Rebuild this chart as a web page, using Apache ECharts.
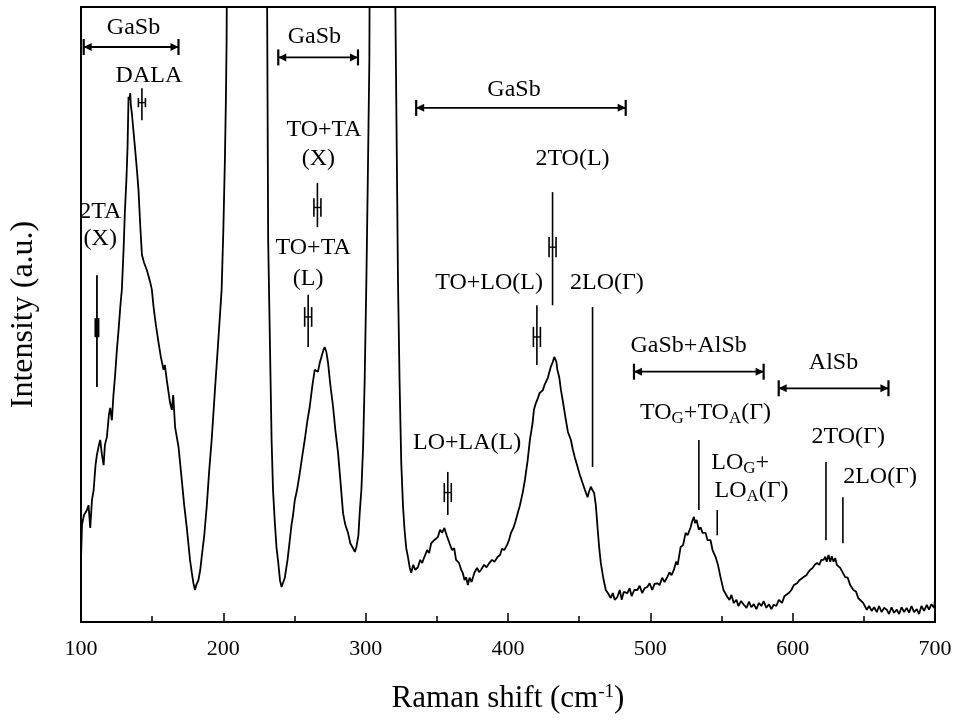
<!DOCTYPE html>
<html><head><meta charset="utf-8">
<script src="https://cdn.jsdelivr.net/npm/echarts@6/dist/echarts.min.js"></script>
<style>html,body{margin:0;padding:0;background:#fff}#c{width:968px;height:727px}</style>
</head><body><div id="c"></div>
<script>
// Raman spectrum (intensity in a.u., 0..100 = bottom..top of frame)
const shift = [100.0,100.7,102.1,104.2,105.3,106.5,107.7,108.9,110.2,111.2,112.6,113.5,114.7,115.9,116.8,118.2,119.6,120.5,121.7,122.8,124.0,125.2,126.4,127.7,128.7,129.9,130.8,131.9,132.7,133.4,134.0,134.6,135.0,135.7,136.8,137.9,139.3,140.4,141.6,142.8,144.2,146.3,148.6,149.8,151.0,152.6,154.5,156.1,158.0,158.9,160.3,162.6,163.8,164.8,166.1,168.5,170.8,172.5,174.3,176.6,177.8,179.0,180.1,181.0,182.5,183.8,184.8,186.6,188.3,190.1,191.8,194.1,196.5,198.8,200.0,201.1,201.8,202.3,203.0,215.0,230.0,230.4,231.5,232.7,233.9,234.9,236.2,237.4,238.6,239.8,240.9,241.9,243.2,245.1,246.7,247.9,249.0,250.2,251.8,253.7,255.6,257.2,259.1,260.7,262.6,264.2,265.4,266.5,267.7,269.3,270.3,271.2,272.4,273.6,275.2,277.1,278.7,280.6,282.2,284.1,285.7,287.6,289.2,291.1,292.4,293.5,294.9,295.8,297.0,298.2,299.3,300.5,301.5,302.6,303.2,311.0,319.6,321.5,322.7,323.8,325.0,326.2,327.3,328.5,329.7,331.0,332.0,333.4,334.8,336.7,338.3,339.7,341.3,343.2,344.6,346.0,348.1,350.7,352.3,353.7,355.3,356.9,358.9,360.7,362.2,363.5,365.6,367.1,368.2,369.5,370.6,371.8,373.0,374.4,376.4,378.3,379.7,381.1,383.2,384.9,386.9,388.8,390.5,392.8,394.4,395.8,397.4,399.3,400.7,402.1,403.8,405.2,406.8,408.4,410.3,411.9,413.8,415.4,417.3,418.2,419.6,421.0,422.1,423.1,424.5,425.6,426.6,428.0,429.1,430.1,431.5,432.5,433.2,434.0,434.7,436.0,437.2,438.4,439.5,440.7,442.1,444.2,445.6,447.0,448.9,450.5,452.4,454.0,455.9,456.8,458.2,459.2,460.5,461.7,462.9,464.1,465.2,466.9,468.7,470.5,472.2,473.6,475.0,476.9,478.5,479.9,481.3,483.9,485.5,486.9,488.7,490.9,492.5,494.3,496.0,497.9,499.5,501.3,503.0,504.9,506.5,508.3,510.0,511.9,513.5,514.9,516.6,518.1,519.2,521.3,523.0,524.8,526.2,528.3,529.3,530.6,531.4,532.5,534.1,535.3,536.7,538.8,540.2,542.3,543.7,545.8,547.5,549.3,551.4,554.0,555.6,557.0,558.6,560.5,561.9,563.7,565.7,567.6,569.3,571.0,572.7,574.5,576.3,578.0,579.6,581.5,583.3,585.0,586.7,588.5,590.3,592.5,594.2,595.6,597.2,599.1,600.8,603.1,604.7,606.1,607.7,609.6,611.0,612.4,614.1,615.5,617.1,618.7,620.1,621.7,622.9,623.9,625.2,626.4,627.5,628.7,629.9,631.0,632.2,633.4,634.8,636.9,638.7,640.4,642.7,644.6,646.0,647.4,649.5,652.1,653.7,655.5,657.2,659.1,660.7,662.5,664.2,666.1,667.7,669.5,671.2,673.1,674.8,676.5,678.3,680.1,681.8,683.5,685.3,687.2,688.8,690.5,692.3,694.2,695.8,697.5,699.3,700.0];
const intensity = [10.1,15.8,17.4,18.2,19.0,15.3,19.8,21.5,25.5,27.2,28.8,29.6,27.2,25.5,28.8,30.1,33.7,34.8,32.8,36.9,40.2,44.2,47.5,51.5,54.0,60.5,66.5,71.9,77.2,85.4,84.9,86.0,84.1,82.8,80.0,77.2,73.5,70.2,64.6,59.7,58.5,57.2,55.3,54.0,51.2,48.3,45.4,43.1,41.0,41.8,39.3,35.6,34.5,36.9,31.7,28.5,23.1,19.0,15.4,10.1,8.1,6.3,5.2,6.0,6.8,8.5,10.6,14.1,18.7,24.7,29.6,37.7,45.9,54.0,63.7,75.1,84.9,94.6,130,170,130,120,62.1,45.9,29.6,21.5,16.1,12.0,9.6,6.8,5.7,6.0,7.2,10.1,13.3,15.8,17.4,19.8,21.5,24.2,27.2,29.6,32.8,35.0,38.5,41.0,41.3,40.7,42.1,43.4,44.2,44.7,43.9,42.1,38.5,35.0,31.2,27.5,23.1,17.7,15.8,14.5,12.8,12.0,11.4,12.2,14.1,17.7,21.5,28.5,39.3,55.6,71.9,91.4,130,170,130,84.9,55.6,39.3,25.9,19.0,15.0,12.0,10.6,8.8,8.0,9.3,8.5,8.9,10.1,9.6,10.6,11.7,11.2,12.8,13.3,13.8,15.0,14.5,15.3,14.1,12.8,11.7,12.0,10.1,9.6,8.5,8.0,6.8,7.3,6.0,7.2,6.5,8.0,8.8,8.1,8.5,9.3,8.9,9.6,10.1,9.8,10.6,10.9,11.9,11.7,12.5,13.3,14.5,15.3,16.3,17.7,19.0,21.0,23.1,26.3,29.6,32.4,34.5,35.6,36.4,37.2,36.9,37.7,38.5,38.2,39.7,40.7,41.5,42.3,43.1,42.9,42.3,41.0,39.8,37.7,36.1,34.5,32.8,30.9,29.6,28.0,26.7,25.2,23.9,22.6,21.5,20.3,21.1,22.0,21.5,21.0,19.0,15.4,12.0,9.6,7.2,5.2,4.6,3.9,4.7,3.6,4.1,5.2,3.6,4.9,4.7,5.5,4.2,5.2,5.2,5.9,4.7,5.5,5.7,6.3,5.2,6.2,6.3,6.0,7.2,6.5,7.3,8.1,7.6,8.5,9.8,9.3,12.2,12.5,14.5,14.1,15.4,16.3,17.1,16.1,16.6,15.0,15.4,14.5,14.5,13.3,13.3,11.7,10.6,9.3,7.3,5.2,4.1,3.6,4.4,3.1,3.6,2.6,3.4,2.8,2.3,3.3,2.4,2.9,2.1,3.1,2.6,3.4,2.3,2.9,2.1,2.8,2.6,3.6,3.1,4.2,3.9,4.7,5.2,6.0,6.3,6.8,6.5,7.3,7.6,8.1,8.5,8.8,9.3,9.6,9.3,10.1,10.1,10.6,9.8,10.9,9.8,10.7,9.8,10.4,9.3,9.6,8.8,9.1,7.3,7.2,6.0,5.2,4.9,3.9,3.6,3.1,2.0,2.6,1.8,2.4,1.6,2.6,1.6,2.3,2.0,1.3,2.4,1.5,2.0,1.3,2.4,1.6,2.3,1.5,2.6,1.6,2.1,1.3,2.6,1.8,2.8,2.0,2.9,2.3,3.6];

// x-axis ticks
const xTicks = [100, 200, 300, 400, 500, 600, 700];

// Range brackets (double arrows) with their captions
const bracketLabels = ['GaSb', 'GaSb', 'GaSb', 'GaSb+AlSb', 'AlSb'];
const bracketFrom = [101.9, 238.6, 335.5, 488.5, 590.2];
const bracketTo = [168.5, 294.6, 482.7, 579.6, 667.3];
const bracketLevel = [93.5, 91.8, 83.6, 40.7, 38.0];
const bracketTextShift = [136.9, 264.0, 404.2, 526.9, 628.7];
const bracketTextLevel = [96.6, 95.2, 86.6, 45.0, 42.1];

// Peak assignment labels
const peakLabels = ['DALA', '2TA', '(X)', 'TO+TA', '(X)', 'TO+TA', '(L)', '2TO(L)', 'TO+LO(L)', '2LO(Γ)', 'LO+LA(L)', 'TO{s|G}+TO{s|A}(Γ)', 'LO{s|G}+', 'LO{s|A}(Γ)', '2TO(Γ)', '2LO(Γ)'];
const peakLabelShift = [147.7, 113.5, 113.5, 270.8, 266.8, 263.1, 259.6, 445.3, 386.7, 469.5, 371.3, 538.8, 563.1, 571.1, 639.0, 661.4];
const peakLabelLevel = [88.9, 66.7, 62.3, 80.0, 75.4, 60.8, 55.9, 75.4, 55.1, 55.1, 29.1, 34.0, 25.9, 21.3, 30.2, 23.7];

// Peak positions with uncertainty ("H" markers)
const hMarkShift = [142.8, 266.1, 259.6, 420.3, 357.7, 431.3];
const hMarkLow = [81.6, 64.2, 44.7, 41.8, 17.4, 51.5];
const hMarkHigh = [86.8, 71.4, 53.2, 51.5, 24.4, 69.9];
const hMarkBarLow = [83.7, 65.9, 48.0, 44.7, 19.5, 59.3];
const hMarkBarHigh = [85.2, 68.9, 51.2, 48.0, 22.6, 62.6];

// 2TA(X) marker with a solid block
const blockMarkShift = [111.2];
const blockMarkLow = [38.2];
const blockMarkHigh = [56.4];
const blockMarkBarLow = [46.3];
const blockMarkBarHigh = [49.4];

// Plain peak-position lines
const tickLineShift = [459.4, 534.1, 547.0, 623.4, 635.3];
const tickLineLow = [25.2, 18.2, 14.1, 13.3, 12.8];
const tickLineHigh = [51.2, 29.6, 18.2, 26.0, 20.3];

const FF = '"Liberation Serif", "Times New Roman", serif';
const chart = echarts.init(document.getElementById('c'), null, {renderer: 'canvas'});
const ls = {stroke: '#000', lineWidth: 1.8};

function renderBracket(params, api) {
  const y = api.value(2);
  const a = api.coord([api.value(0), y]);
  const b = api.coord([api.value(1), y]);
  const t = api.coord([api.value(3), api.value(4)]);
  const h = 8, ah = 8, aw = 4;
  return {type: 'group', children: [
    {type: 'line', shape: {x1: a[0], y1: a[1], x2: b[0], y2: b[1]}, style: ls},
    {type: 'line', shape: {x1: a[0], y1: a[1] - h, x2: a[0], y2: a[1] + h}, style: {stroke: '#000', lineWidth: 2.2}},
    {type: 'line', shape: {x1: b[0], y1: b[1] - h, x2: b[0], y2: b[1] + h}, style: {stroke: '#000', lineWidth: 2.2}},
    {type: 'polygon', shape: {points: [[a[0], a[1]], [a[0] + ah, a[1] - aw], [a[0] + ah, a[1] + aw]]}, style: {fill: '#000'}},
    {type: 'polygon', shape: {points: [[b[0], b[1]], [b[0] - ah, b[1] - aw], [b[0] - ah, b[1] + aw]]}, style: {fill: '#000'}},
    {type: 'text', x: t[0], y: t[1], style: {text: bracketLabels[params.dataIndex], fontFamily: FF, fontSize: 24, fill: '#000', align: 'center', verticalAlign: 'middle'}}
  ]};
}

function renderLabel(params, api) {
  const p = api.coord([api.value(0), api.value(1)]);
  return {type: 'text', x: p[0], y: p[1], style: {
    text: peakLabels[params.dataIndex], fontFamily: FF, fontSize: 24, fill: '#000',
    align: 'center', verticalAlign: 'middle', lineHeight: 28,
    rich: {s: {fontFamily: FF, fontSize: 17, lineHeight: 6, verticalAlign: 'bottom', fill: '#000'}}
  }};
}

function renderH(params, api) {
  const x = api.value(0);
  const lo = api.coord([x, api.value(1)]);
  const hi = api.coord([x, api.value(2)]);
  const bl = api.coord([x, api.value(3)]);
  const bh = api.coord([x, api.value(4)]);
  const w = 3.5;
  return {type: 'group', children: [
    {type: 'line', shape: {x1: lo[0], y1: lo[1], x2: hi[0], y2: hi[1]}, style: {stroke: '#000', lineWidth: 1.6}},
    {type: 'line', shape: {x1: bl[0] - w, y1: bl[1], x2: bh[0] - w, y2: bh[1]}, style: {stroke: '#000', lineWidth: 1.6}},
    {type: 'line', shape: {x1: bl[0] + w, y1: bl[1], x2: bh[0] + w, y2: bh[1]}, style: {stroke: '#000', lineWidth: 1.6}},
    {type: 'line', shape: {x1: bl[0] - w, y1: (bl[1] + bh[1]) / 2, x2: bl[0] + w, y2: (bl[1] + bh[1]) / 2}, style: {stroke: '#000', lineWidth: 1.4}}
  ]};
}

function renderBlock(params, api) {
  const x = api.value(0);
  const lo = api.coord([x, api.value(1)]);
  const hi = api.coord([x, api.value(2)]);
  const bl = api.coord([x, api.value(3)]);
  const bh = api.coord([x, api.value(4)]);
  return {type: 'group', children: [
    {type: 'line', shape: {x1: lo[0], y1: lo[1], x2: hi[0], y2: hi[1]}, style: {stroke: '#000', lineWidth: 1.8}},
    {type: 'rect', shape: {x: bl[0] - 2.5, y: bh[1], width: 5, height: bl[1] - bh[1]}, style: {fill: '#000'}}
  ]};
}

function renderTick(params, api) {
  const x = api.value(0);
  const lo = api.coord([x, api.value(1)]);
  const hi = api.coord([x, api.value(2)]);
  return {type: 'line', shape: {x1: lo[0], y1: lo[1], x2: hi[0], y2: hi[1]}, style: {stroke: '#000', lineWidth: 1.6}};
}

const option = {
  animation: false,
  backgroundColor: '#fff',
  grid: {left: 79, right: 33, top: 7, bottom: 105, show: true, borderColor: '#000', borderWidth: 2, backgroundColor: 'transparent'},
  xAxis: {
    type: 'value', min: xTicks[0], max: xTicks[xTicks.length - 1], interval: 100,
    axisLine: {show: true, lineStyle: {color: '#000', width: 2}},
    axisTick: {show: true, inside: true, length: 9, lineStyle: {color: '#000', width: 1.5}},
    minorTick: {show: true, splitNumber: 2, length: 6, lineStyle: {color: '#000', width: 1.5}},
    splitLine: {show: false},
    axisLabel: {color: '#000', fontFamily: FF, fontSize: 22, margin: 16},
    name: 'Raman shift (cm{sup|-1})', nameLocation: 'middle', nameGap: 61,
    nameTextStyle: {color: '#000', fontFamily: FF, fontSize: 31,
      rich: {sup: {fontFamily: FF, fontSize: 19, verticalAlign: 'top', lineHeight: 14, color: '#000'}}}
  },
  yAxis: {
    type: 'value', min: 0, max: 100,
    axisLine: {show: true, lineStyle: {color: '#000', width: 2}},
    axisTick: {show: false}, axisLabel: {show: false}, splitLine: {show: false},
    name: 'Intensity (a.u.)', nameLocation: 'middle', nameGap: 41,
    nameTextStyle: {color: '#000', fontFamily: FF, fontSize: 32}
  },
  series: [
    {type: 'line', data: shift.map((x, i) => [x, intensity[i]]), showSymbol: false, symbol: 'none', clip: true,
     lineStyle: {color: '#000', width: 1.8}, silent: true},
    {type: 'custom', coordinateSystem: 'cartesian2d', silent: true, clip: false, renderItem: renderBracket,
     data: bracketFrom.map((f, i) => [f, bracketTo[i], bracketLevel[i], bracketTextShift[i], bracketTextLevel[i]]),
     encode: {x: [0, 1, 3], y: [2, 4]}},
    {type: 'custom', coordinateSystem: 'cartesian2d', silent: true, clip: false, renderItem: renderLabel,
     data: peakLabelShift.map((x, i) => [x, peakLabelLevel[i]]), encode: {x: 0, y: 1}},
    {type: 'custom', coordinateSystem: 'cartesian2d', silent: true, clip: false, renderItem: renderH,
     data: hMarkShift.map((x, i) => [x, hMarkLow[i], hMarkHigh[i], hMarkBarLow[i], hMarkBarHigh[i]]), encode: {x: 0, y: [1, 2, 3, 4]}},
    {type: 'custom', coordinateSystem: 'cartesian2d', silent: true, clip: false, renderItem: renderBlock,
     data: blockMarkShift.map((x, i) => [x, blockMarkLow[i], blockMarkHigh[i], blockMarkBarLow[i], blockMarkBarHigh[i]]), encode: {x: 0, y: [1, 2, 3, 4]}},
    {type: 'custom', coordinateSystem: 'cartesian2d', silent: true, clip: false, renderItem: renderTick,
     data: tickLineShift.map((x, i) => [x, tickLineLow[i], tickLineHigh[i]]), encode: {x: 0, y: [1, 2]}}
  ]
};
chart.setOption(option);
</script>
</body></html>
